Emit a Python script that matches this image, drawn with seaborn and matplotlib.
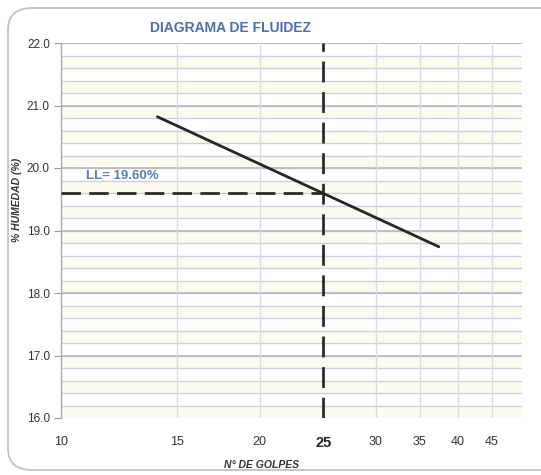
import numpy as np
import pandas as pd
import seaborn as sns
import matplotlib.pyplot as plt
from matplotlib.patches import FancyBboxPatch
from matplotlib import font_manager

# Flow curve (Casagrande): number of blows vs. moisture content
golpes = [14.0, 37.4]
humedad = [20.82, 18.74]
limite_liquido = 19.60
golpes_ll = 25

x_ticks = [10, 15, 20, 25, 30, 35, 40, 45]
y_ticks = [16.0, 17.0, 18.0, 19.0, 20.0, 21.0, 22.0]

titulo = "DIAGRAMA DE FLUIDEZ"
etiqueta_x = "N° DE GOLPES"
etiqueta_y = "% HUMEDAD (%)"

sns.set_theme(style="white")
names = {f.name for f in font_manager.fontManager.ttflist}
narrow = "Liberation Sans Narrow" if "Liberation Sans Narrow" in names else "Liberation Sans"
plt.rcParams["font.family"] = [narrow, "DejaVu Sans"]

fig = plt.figure(figsize=(5.41, 4.75), dpi=100)
fig.patch.set_facecolor("white")

# rounded frame around the chart
frame = FancyBboxPatch((8 / 541, 5 / 475), 560 / 541, 462 / 475,
                       boxstyle="round,pad=0,rounding_size=0.045",
                       transform=fig.transFigure, facecolor="none",
                       edgecolor="#c4c4b4", linewidth=1.3, clip_on=False)
fig.add_artist(frame)

ax = fig.add_axes([61 / 541, 1 - 418 / 475, 461 / 541, 375 / 475])
ax.set_xscale("log")
ax.set_xlim(10, 50)
ax.set_ylim(16.0, 22.0)

# alternating pale bands every 0.2
bands = np.arange(16.0, 22.0, 0.2)
for i, b in enumerate(bands):
    if i % 2 == 0:
        ax.axhspan(b, b + 0.2, color="#fcfcee", zorder=0, lw=0)

# grid
for yv in np.arange(16.2, 22.0, 0.2):
    ax.axhline(yv, color="#cfcde0", lw=1.0, zorder=1)
for yv in y_ticks[1:]:
    ax.axhline(yv, color="#bfb3ca", lw=1.2, zorder=1)
for xv in [15, 20, 30, 35, 40, 45]:
    ax.axvline(xv, color="#dcdae4", lw=1.0, zorder=1)

# fitted flow line
df = pd.DataFrame({"golpes": golpes, "humedad": humedad})
sns.lineplot(data=df, x="golpes", y="humedad", ax=ax, color="#262626",
             lw=2.0, zorder=4, legend=False)

# liquid limit guides
ax.plot([10, golpes_ll], [limite_liquido, limite_liquido], color="#2b2b2b",
        lw=2.0, dashes=(7, 3), zorder=3)
ax.axvline(golpes_ll, color="#2b2b2b", lw=2.0, dashes=(7.5, 3.5), zorder=3)
ax.text(10.9, limite_liquido + 0.17, f"LL= {limite_liquido:.2f}%",
        color="#5a7db4", fontsize=9.5, fontweight="bold", va="bottom", ha="left",
        zorder=5)

ax.set_xticks(x_ticks)
ax.set_xticklabels([str(v) for v in x_ticks])
ax.xaxis.set_minor_locator(plt.NullLocator())
ax.set_yticks(y_ticks)
ax.set_yticklabels([f"{v:.1f}" for v in y_ticks])
ax.tick_params(axis="x", length=0, pad=13, labelsize=9, colors="#333333")
ax.tick_params(axis="y", length=5, width=0.8, color="#999999", pad=3,
               labelsize=8.5, labelcolor="#333333", direction="out", left=True)
for lbl in ax.get_xticklabels():
    if lbl.get_text() == "25":
        lbl.set_fontweight("bold")
        lbl.set_fontsize(10.5)
        lbl.set_color("#222222")

for side in ["top", "right", "bottom"]:
    ax.spines[side].set_visible(False)
ax.spines["left"].set_color("#a8a8b8")
ax.spines["left"].set_linewidth(1.0)
ax.set_xlabel("")
ax.set_ylabel("")

fig.text(230 / 541, 1 - 28 / 475, titulo, color="#4f6cb4", fontsize=10,
         fontweight="bold", ha="center", va="center")
fig.text(262 / 541, 1 - 465 / 475, etiqueta_x, color="#333333", fontsize=7.5,
         fontweight="bold", fontstyle="italic", ha="center", va="center")
fig.text(17 / 541, 1 - 200 / 475, etiqueta_y, color="#333333", fontsize=7.5,
         fontweight="bold", fontstyle="italic", ha="center", va="center",
         rotation=90)

fig.savefig("out.png", dpi=100)
